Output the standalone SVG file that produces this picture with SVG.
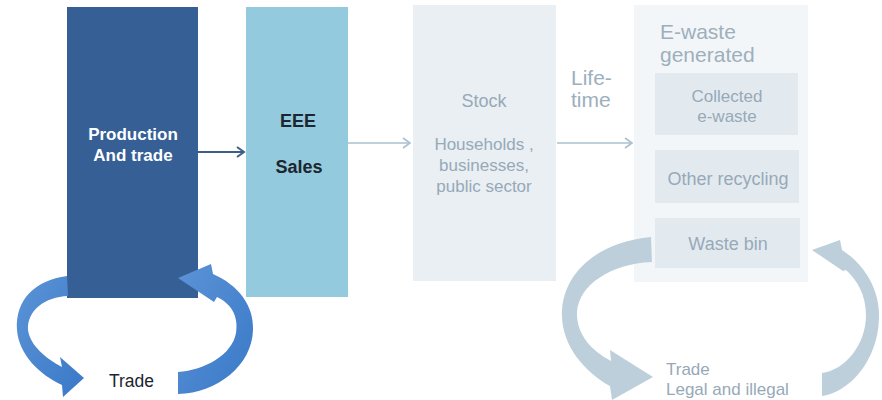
<svg xmlns="http://www.w3.org/2000/svg" width="882" height="400" viewBox="0 0 882 400">
<defs>
<linearGradient id="blueg" x1="0" y1="0" x2="1" y2="1">
<stop offset="0" stop-color="#5b93d6"/>
<stop offset="1" stop-color="#3a79c8"/>
</linearGradient>
<marker id="hdark" markerWidth="12" markerHeight="12" refX="9" refY="6" orient="auto" markerUnits="userSpaceOnUse">
<path d="M2 1 L9 6 L2 11" fill="none" stroke="#3b5f86" stroke-width="2"/>
</marker>
<marker id="hlight" markerWidth="12" markerHeight="12" refX="9" refY="6" orient="auto" markerUnits="userSpaceOnUse">
<path d="M2 1 L9 6 L2 11" fill="none" stroke="#aac0cf" stroke-width="1.6"/>
</marker>
</defs>
<style>
text{font-family:"Liberation Sans",Arial,sans-serif}
.w{fill:#ffffff;font-size:17px;font-weight:bold}
.k{fill:#1c2630;font-size:18px;font-weight:bold}
.kt{fill:#1c2630;font-size:17.5px}
.g{fill:#97a9b8;font-size:18px}
.gs{fill:#97a9b8;font-size:17px}
.gl{fill:#9dafbd;font-size:21px}
.darkarrow{fill:url(#blueg)}
.lightarrow{fill:#bccfdb}
</style>
<rect width="882" height="400" fill="#ffffff"/>

<g id="production">
<rect x="67" y="7" width="131" height="291" fill="#355f95"/>
<text class="w" x="133" y="140" text-anchor="middle">Production</text>
<text class="w" x="133" y="161" text-anchor="middle">And trade</text>
</g>

<g id="eee">
<rect x="246" y="7" width="102" height="290" fill="#93cadd"/>
<text class="k" x="298" y="127" text-anchor="middle">EEE</text>
<text class="k" x="299" y="173" text-anchor="middle">Sales</text>
</g>

<g id="stock">
<rect x="413" y="5" width="143" height="276" fill="#e9eff3"/>
<text class="g" x="484" y="107" text-anchor="middle">Stock</text>
<text class="gs" x="484" y="150" text-anchor="middle">Households ,</text>
<text class="gs" x="484" y="171" text-anchor="middle">businesses,</text>
<text class="gs" x="484" y="192" text-anchor="middle">public sector</text>
</g>

<g id="lifetime">
<text class="gl" x="571" y="85">Life-</text>
<text class="gl" x="571" y="107">time</text>
</g>

<g id="ewaste">
<rect x="634" y="5" width="174" height="277" fill="#f3f6f8"/>
<text class="gl" x="660" y="39">E-waste</text>
<text class="gl" x="660" y="62">generated</text>
</g>

<g id="collected">
<rect x="655" y="73" width="143" height="62" fill="#e3eaef"/>
<text class="gs" x="727" y="102" text-anchor="middle">Collected</text>
<text class="gs" x="727" y="122" text-anchor="middle">e-waste</text>
</g>

<g id="other">
<rect x="655" y="150" width="144" height="53" fill="#e3eaef"/>
<text class="g" x="728" y="185" text-anchor="middle">Other recycling</text>
</g>

<g id="wastebin">
<rect x="655" y="218" width="145" height="50" fill="#e3eaef"/>
<text class="g" x="728" y="250" text-anchor="middle">Waste bin</text>
</g>

<g id="connectors">
<line x1="198" y1="152" x2="244" y2="152" stroke="#3b5f86" stroke-width="2" marker-end="url(#hdark)"/>
<line x1="348" y1="143" x2="410" y2="143" stroke="#aac0cf" stroke-width="1.4" marker-end="url(#hlight)"/>
<line x1="557" y1="143" x2="632" y2="143" stroke="#aac0cf" stroke-width="1.4" marker-end="url(#hlight)"/>
<path class="darkarrow" d="M 67 276 C 35 280, 15 300, 17 330 C 19 355, 40 375, 62 385 L 63 397 L 84 378 L 60 357 L 62 367 C 45 358, 30 345, 28 330 C 27 310, 45 297, 68 296 Z"/>
<path class="darkarrow" d="M 178 372 C 205 370, 232 355, 236 333 C 239 315, 230 303, 217 297 L 214 302 L 178 278 L 211 264 L 213 274 C 238 285, 254 305, 253 330 C 252 365, 218 393, 178 394 Z"/>
<path class="lightarrow" d="M 651 237 C 600 242, 565 270, 562 310 C 560 345, 585 372, 610 386 L 612 400 L 653 377 L 610 350 L 611 361 C 590 350, 576 333, 577 312 C 579 285, 610 264, 652 262 Z"/>
<path class="lightarrow" d="M 822 373 C 845 370, 866 345, 866 315 C 866 295, 857 280, 846 270 L 843 271 L 812 250 L 840 240 L 842 250 C 865 265, 880 290, 879 318 C 878 360, 850 392, 822 396 Z"/>
</g>

<g id="trade-labels">
<text class="kt" x="109" y="387">Trade</text>
<text class="gs" x="666" y="375">Trade</text>
<text class="gs" x="666" y="395">Legal and illegal</text>
</g>
</svg>
